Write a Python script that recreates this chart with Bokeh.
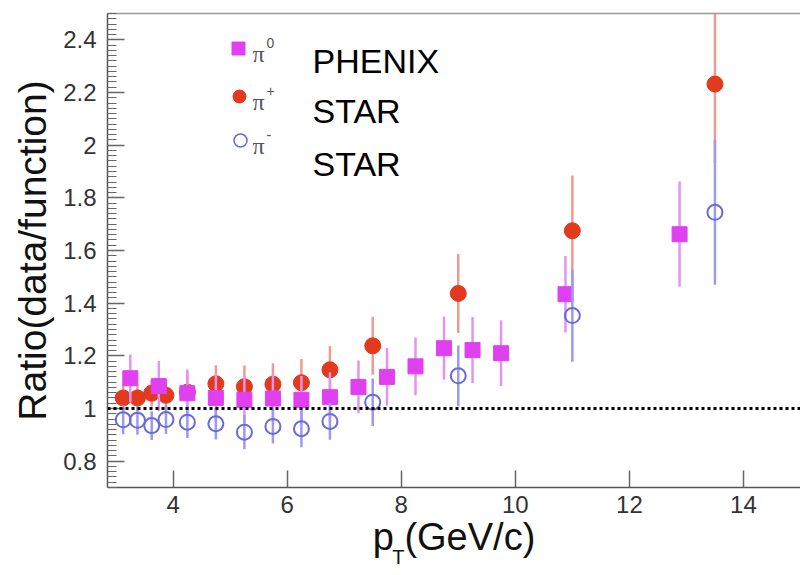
from bokeh.plotting import figure
from bokeh.models import ColumnDataSource, Span, Label, LinearAxis, FixedTicker, Range1d
from bokeh.embed import file_html
from bokeh.resources import INLINE

# ---------------- data ----------------
pi0_x = [3.25, 3.75, 4.25, 4.75, 5.25, 5.75, 6.25, 6.75, 7.25, 7.75, 8.25, 8.75, 9.25, 9.75, 10.88, 12.88]
pi0_y = [1.115, 1.085, 1.058, 1.040, 1.033, 1.038, 1.033, 1.043, 1.082, 1.120, 1.160, 1.229, 1.222, 1.210, 1.434, 1.662]
pi0_e = [0.09, 0.095, 0.09, 0.09, 0.09, 0.09, 0.09, 0.095, 0.10, 0.11, 0.11, 0.12, 0.125, 0.125, 0.145, 0.20]

pip_x = [3.125, 3.375, 3.625, 3.875, 4.25, 4.75, 5.25, 5.75, 6.25, 6.75, 7.5, 9.0, 11.0, 13.5]
pip_y = [1.040, 1.040, 1.058, 1.050, 1.062, 1.094, 1.083, 1.092, 1.098, 1.147, 1.238, 1.437, 1.675, 2.232]
pip_e = [0.05, 0.05, 0.05, 0.05, 0.07, 0.07, 0.08, 0.08, 0.09, 0.09, 0.11, 0.15, 0.21, 0.30]

pim_x = [3.125, 3.375, 3.625, 3.875, 4.25, 4.75, 5.25, 5.75, 6.25, 6.75, 7.5, 9.0, 11.0, 13.5]
pim_y = [0.957, 0.955, 0.935, 0.958, 0.948, 0.942, 0.910, 0.932, 0.923, 0.951, 1.024, 1.124, 1.353, 1.745]
pim_e = [0.055, 0.055, 0.055, 0.055, 0.06, 0.06, 0.065, 0.065, 0.07, 0.07, 0.09, 0.115, 0.175, 0.275]

x_ticks = [4, 6, 8, 10, 12, 14]
y_ticks = [0.8, 1, 1.2, 1.4, 1.6, 1.8, 2, 2.2, 2.4]
y_minor = [round(0.7 + 0.02 * i, 2) for i in range(91)]

legend_sym = ["\u03c0", "\u03c0", "\u03c0"]
legend_sup = ["0", "+", "-"]
legend_exp = ["PHENIX", "STAR", "STAR"]

XMIN, XMAX = 2.85, 15.0
YMIN, YMAX = 0.7, 2.5

# ---------------- figure ----------------
W, H = 800, 575
BL, BT, BB = 107, 13, 88
p = figure(width=W, height=H, output_backend="svg", toolbar_location=None,
           x_range=Range1d(XMIN, XMAX), y_range=Range1d(YMIN, YMAX),
           min_border_left=BL, min_border_right=0, min_border_top=BT, min_border_bottom=BB)
p.background_fill_color = "white"
p.border_fill_color = "white"
p.outline_line_color = None
p.xgrid.visible = False
p.ygrid.visible = False

FONT = "Liberation Sans"
NB = "\u00a0"

for ax in (p.xaxis[0], p.yaxis[0]):
    ax.axis_line_color = "#555555"
    ax.axis_line_width = 1.5
    ax.major_tick_in = 17
    ax.major_tick_out = 0
    ax.minor_tick_in = 9
    ax.minor_tick_out = 0
    ax.major_tick_line_color = "#666666"
    ax.minor_tick_line_color = "#666666"
    ax.major_tick_line_width = 1.5
    ax.minor_tick_line_width = 1.2
    ax.major_label_text_font = FONT
    ax.major_label_text_font_size = "24px"
    ax.major_label_text_color = "#333333"

xa = p.xaxis[0]
xa.ticker = FixedTicker(ticks=x_ticks)
xa.minor_tick_line_color = None
xa.major_label_standoff = 8
xa.axis_label = "p" + NB + "(GeV/c)"
xa.axis_label_text_font = FONT
xa.axis_label_text_font_size = "38px"
xa.axis_label_text_font_style = "normal"
xa.axis_label_text_color = "#111111"
xa.axis_label_standoff = 0

ya = p.yaxis[0]
ya.ticker = FixedTicker(ticks=y_ticks, minor_ticks=y_minor)
ya.major_label_overrides = {1: "1", 2: "2"}
ya.major_label_standoff = 11
ya.axis_label = "Ratio(data/function)"
ya.axis_label_text_font = FONT
ya.axis_label_text_font_size = "39px"
ya.axis_label_text_font_style = "normal"
ya.axis_label_text_color = "#111111"
ya.axis_label_standoff = 6

# subscript "T" of p_T, as the label of an empty second axis below
sub_axis = LinearAxis(ticker=FixedTicker(ticks=[]), major_label_text_font_size="0px",
                      major_label_standoff=0, axis_line_color=None,
                      major_tick_line_color=None, minor_tick_line_color=None,
                      axis_label="T" + NB * 20, axis_label_text_font=FONT,
                      axis_label_text_font_size="20px", axis_label_text_font_style="normal",
                      axis_label_text_color="#111111", axis_label_standoff=-15)
p.add_layout(sub_axis, "below")

top_axis = LinearAxis(ticker=FixedTicker(ticks=[]), major_label_text_font_size="0px",
                      major_label_standoff=0, axis_line_color="#999999", axis_line_width=1.5,
                      major_tick_line_color=None, minor_tick_line_color=None)
p.add_layout(top_axis, "above")

# reference line
p.add_layout(Span(location=1.0, dimension="width", line_color="black",
                  line_width=3, line_dash="3 3"))

def bars(xs, ys, es):
    return ColumnDataSource(dict(x=xs, y0=[y - e for y, e in zip(ys, es)],
                                 y1=[y + e for y, e in zip(ys, es)], y=ys))

s_pip = bars(pip_x, pip_y, pip_e)
s_pi0 = bars(pi0_x, pi0_y, pi0_e)
s_pim = bars(pim_x, pim_y, pim_e)

MAG, MAG_BAR = "#e040f0", "#e394f2"
RED, RED_BAR = "#e23a1c", "#f09a92"
BLU, BLU_BAR = "#6a6ada", "#9a9af0"

p.segment(x0="x", y0="y0", x1="x", y1="y1", source=s_pip, line_color=RED_BAR, line_width=2.5)
p.scatter(x="x", y="y", source=s_pip, marker="circle", size=16, fill_color=RED, line_color=RED)

p.segment(x0="x", y0="y0", x1="x", y1="y1", source=s_pi0, line_color=MAG_BAR, line_width=2.5)
p.scatter(x="x", y="y", source=s_pi0, marker="square", size=15, fill_color=MAG, line_color=MAG)

p.segment(x0="x", y0="y0", x1="x", y1="y1", source=s_pim, line_color=BLU_BAR, line_width=2.5)
p.scatter(x="x", y="y", source=s_pim, marker="circle", size=15, fill_color=None,
          line_color=BLU, line_width=2)

# ---------------- legend (pixel positions inside the frame) ----------------
fw = W - BL
fh = H - BT - BB
ppx = fw / (XMAX - XMIN)
ppy = fh / (YMAX - YMIN)

def dx(px):
    return XMIN + (px - BL) / ppx

def dy(py):
    return YMAX - (py - BT) / ppy

leg_px = [238, 239, 240]
leg_py = [48, 96, 140]
p.scatter(x=[dx(leg_px[0])], y=[dy(leg_py[0])], marker="square", size=13,
          fill_color=MAG, line_color=MAG)
p.scatter(x=[dx(leg_px[1])], y=[dy(leg_py[1])], marker="circle", size=13,
          fill_color=RED, line_color=RED)
p.scatter(x=[dx(leg_px[2])], y=[dy(leg_py[2])], marker="circle", size=13,
          fill_color=None, line_color=BLU, line_width=1.5)

for i in range(3):
    p.add_layout(Label(x=dx(252), y=dy(leg_py[i] + 5), text=legend_sym[i],
                       text_font="Liberation Serif", text_font_size="24px",
                       text_color="#555555", text_baseline="middle", text_align="left"))
    p.add_layout(Label(x=dx(266), y=dy(leg_py[i] - 6), text=legend_sup[i],
                       text_font=FONT, text_font_size="14px",
                       text_color="#555555", text_baseline="middle", text_align="left"))

exp_py = [60, 110, 163]
for i in range(3):
    p.add_layout(Label(x=dx(312), y=dy(exp_py[i]), text=legend_exp[i],
                       text_font=FONT, text_font_size="34px",
                       text_color="black", text_baseline="middle", text_align="left"))

open("out.html", "w").write(file_html(p, INLINE))
